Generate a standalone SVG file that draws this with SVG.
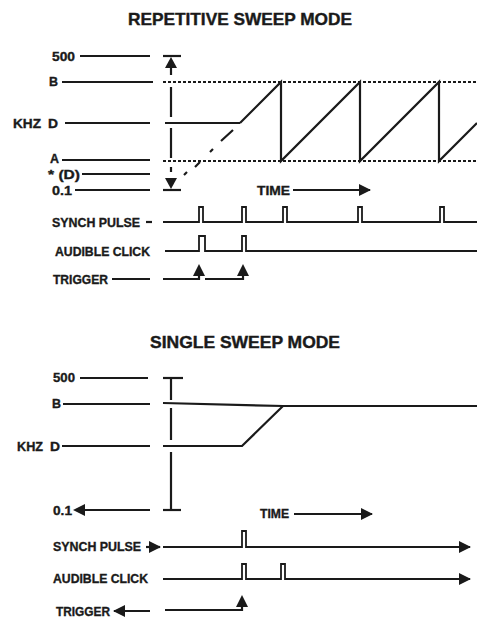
<svg xmlns="http://www.w3.org/2000/svg" width="477" height="620" viewBox="0 0 477 620">
<style>
text{font-family:"Liberation Sans",Arial,sans-serif;font-weight:bold;fill:#1a1a1a;font-size:12.5px;stroke:#1a1a1a;stroke-width:0.35}
.title{font-size:16.5px;stroke-width:0.4}
.ln{stroke:#1a1a1a;stroke-width:2.2;fill:none}
.thin{stroke:#1a1a1a;stroke-width:1.8;fill:none}
.dot{stroke:#1a1a1a;stroke-width:2.2;fill:none;stroke-dasharray:3 2}
.ah{fill:#1a1a1a}
</style>
<defs>
<marker id="arr" viewBox="0 0 12 12" refX="11" refY="6" markerWidth="12" markerHeight="12" markerUnits="userSpaceOnUse" orient="auto">
<path d="M0,0 L12,6 L0,12 Z" fill="#1a1a1a"/>
</marker>
</defs>

<g id="title-repetitive"><text class="title" x="128" y="25" textLength="224" lengthAdjust="spacingAndGlyphs">REPETITIVE SWEEP MODE</text></g>

<g id="rep-axis-labels">
<text x="52" y="61" textLength="23" lengthAdjust="spacingAndGlyphs">500</text>
<text x="49" y="86" textLength="9" lengthAdjust="spacingAndGlyphs">B</text>
<text x="13" y="128" textLength="28" lengthAdjust="spacingAndGlyphs">KHZ</text>
<text x="48" y="128" textLength="10" lengthAdjust="spacingAndGlyphs">D</text>
<text x="50" y="163" textLength="9" lengthAdjust="spacingAndGlyphs">A</text>
<text x="48" y="179" textLength="32" lengthAdjust="spacingAndGlyphs">* (D)</text>
<text x="52" y="195" textLength="20" lengthAdjust="spacingAndGlyphs">0.1</text>
<line class="ln" x1="80" y1="56" x2="150" y2="56"/>
<line class="ln" x1="62" y1="82" x2="153" y2="82"/>
<line class="ln" x1="65" y1="123" x2="150" y2="123"/>
<line class="ln" x1="62" y1="160" x2="150" y2="160"/>
<line class="ln" x1="82" y1="174" x2="150" y2="174"/>
<line class="ln" x1="75" y1="190" x2="150" y2="190"/>
</g>

<g id="rep-range">
<line class="ln" x1="163" y1="56" x2="181" y2="56"/>
<line class="ln" x1="163" y1="190" x2="181" y2="190"/>
<path class="ah" d="M171,57 L165,68 L177,68 Z"/>
<path class="ah" d="M171,189 L165,178 L177,178 Z"/>
<line class="ln" x1="171" y1="67" x2="171" y2="75"/>
<line class="ln" x1="171" y1="87" x2="171" y2="117"/>
<line class="ln" x1="171" y1="128" x2="171" y2="158"/>
<line class="ln" x1="171" y1="167" x2="171" y2="172"/>
</g>

<g id="rep-levels">
<line class="dot" x1="163" y1="82" x2="477" y2="82"/>
<line class="dot" x1="163" y1="161" x2="477" y2="161"/>
<line class="ln" x1="165" y1="123" x2="240" y2="123"/>
<path class="ln" d="M184,175 L187,172 M195,167 L200,162 M210,152 L213,149 M221,141 L233,130" />
</g>

<g id="rep-sawtooth">
<path class="ln" d="M240,123 L281,82 L281,161 L360,82 L360,161 L439,82 L439,161 L477,123"/>
</g>

<g id="rep-time">
<text x="257" y="195" textLength="33" lengthAdjust="spacingAndGlyphs">TIME</text>
<line class="ln" x1="293" y1="190" x2="370" y2="190" marker-end="url(#arr)"/>
</g>

<g id="rep-synch">
<text x="52" y="227" textLength="88" lengthAdjust="spacingAndGlyphs">SYNCH PULSE</text>
<line class="ln" x1="146" y1="222" x2="152" y2="222"/>
<path class="thin" d="M163,222 H199 V207 H203 V222 H242 V207 H246 V222 H283 V207 H287 V222 H358 V207 H362 V222 H440 V207 H444 V222 H477"/>
</g>

<g id="rep-click">
<text x="55" y="256" textLength="95" lengthAdjust="spacingAndGlyphs">AUDIBLE CLICK</text>
<path class="thin" d="M165,251 H199 V236 H205 V251 H242 V236 H246 V251 H477"/>
</g>

<g id="rep-trigger">
<text x="53" y="284" textLength="55" lengthAdjust="spacingAndGlyphs">TRIGGER</text>
<line class="ln" x1="112" y1="279" x2="150" y2="279"/>
<path class="ln" d="M163,279 H199 V272"/>
<path class="ln" d="M205,279 H243 V272"/>
<path class="ah" d="M199,264 L193,276 L205,276 Z"/>
<path class="ah" d="M243,264 L237,276 L249,276 Z"/>
</g>

<g id="title-single"><text class="title" x="150" y="348" textLength="190" lengthAdjust="spacingAndGlyphs">SINGLE SWEEP MODE</text></g>

<g id="sgl-axis-labels">
<text x="53" y="382" textLength="22" lengthAdjust="spacingAndGlyphs">500</text>
<text x="52" y="408" textLength="9" lengthAdjust="spacingAndGlyphs">B</text>
<text x="17" y="451" textLength="26" lengthAdjust="spacingAndGlyphs">KHZ</text>
<text x="50" y="451" textLength="10" lengthAdjust="spacingAndGlyphs">D</text>
<text x="53" y="515" textLength="19" lengthAdjust="spacingAndGlyphs">0.1</text>
<line class="ln" x1="80" y1="378" x2="148" y2="378"/>
<line class="ln" x1="63" y1="404" x2="150" y2="404"/>
<line class="ln" x1="62" y1="446" x2="150" y2="446"/>
<line class="ln" x1="84" y1="510" x2="150" y2="510"/>
<path class="ah" d="M73,510 L85,504 L85,516 Z"/>
</g>

<g id="sgl-range">
<line class="ln" x1="163" y1="378" x2="183" y2="378"/>
<line class="ln" x1="163" y1="510" x2="181" y2="510"/>
<line class="ln" x1="171" y1="378" x2="171" y2="400"/>
<line class="ln" x1="171" y1="408" x2="171" y2="440"/>
<line class="ln" x1="171" y1="452" x2="171" y2="510"/>
</g>

<g id="sgl-curve">
<path class="ln" d="M163,403 L283,406 L477,406"/>
<path class="ln" d="M163,446 L242,446 L283,406"/>
</g>

<g id="sgl-time">
<text x="260" y="518" textLength="29" lengthAdjust="spacingAndGlyphs">TIME</text>
<line class="ln" x1="294" y1="514" x2="372" y2="514" marker-end="url(#arr)"/>
</g>

<g id="sgl-synch">
<text x="53" y="551" textLength="88" lengthAdjust="spacingAndGlyphs">SYNCH PULSE</text>
<line class="ln" x1="146" y1="547" x2="160" y2="547" marker-end="url(#arr)"/>
<path class="thin" d="M163,547 H242 V531 H246 V547 H470" marker-end="url(#arr)"/>
</g>

<g id="sgl-click">
<text x="53" y="583" textLength="95" lengthAdjust="spacingAndGlyphs">AUDIBLE CLICK</text>
<path class="thin" d="M163,579 H242 V564 H246 V579 H281 V564 H285 V579 H470" marker-end="url(#arr)"/>
</g>

<g id="sgl-trigger">
<text x="56" y="616" textLength="54" lengthAdjust="spacingAndGlyphs">TRIGGER</text>
<line class="ln" x1="150" y1="611" x2="114" y2="611" marker-end="url(#arr)"/>
<path class="ln" d="M165,610 H242 V603"/>
<path class="ah" d="M242,595 L236,607 L248,607 Z"/>
</g>
</svg>
